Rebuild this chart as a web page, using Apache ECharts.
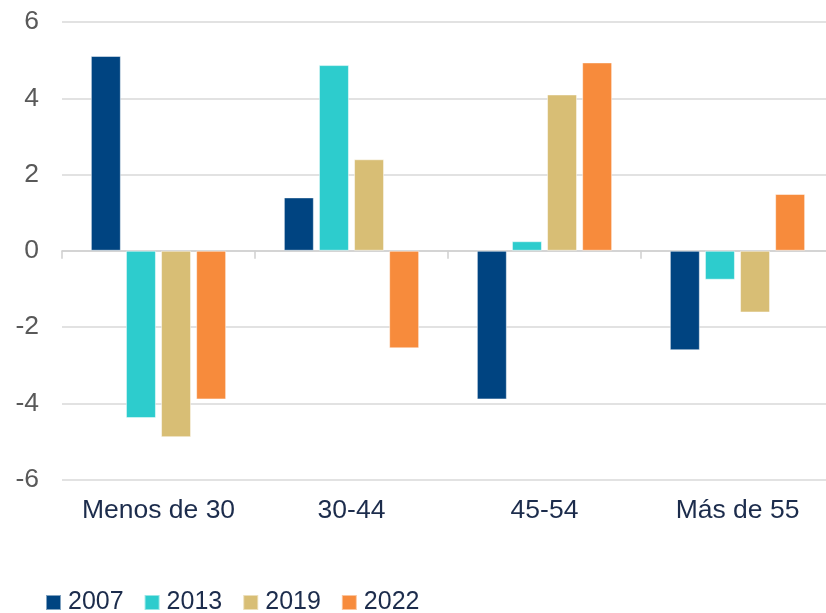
<!DOCTYPE html>
<html>
<head>
<meta charset="utf-8">
<script src="https://cdn.jsdelivr.net/npm/echarts@6/dist/echarts.min.js"></script>
<style>
  html, body { margin: 0; padding: 0; background: #fff; }
  #chart { width: 826px; height: 613px; }
</style>
</head>
<body>
<div id="chart"></div>
<script>
// 年龄组
var categories = ['Menos de 30', '30-44', '45-54', 'Más de 55'];
var yTicks = [-6, -4, -2, 0, 2, 4, 6];

var s2007 = [5.11, 1.40, -3.90, -2.61];
var s2013 = [-4.39, 4.87, 0.25, -0.76];
var s2019 = [-4.89, 2.40, 4.10, -1.62];
var s2022 = [-3.90, -2.56, 4.94, 1.49];

var colors = ['#004481', '#2dcccd', '#d8be75', '#f78b3c'];
var font = 'Liberation Sans, Arial, sans-serif';

function bar(name, data, color) {
  return {
    name: name,
    type: 'bar',
    data: data,
    barWidth: 30,
    barGap: '17%',
    itemStyle: {
      color: color,
      borderColor: 'rgba(255,255,255,0.5)',
      borderWidth: 1
    }
  };
}

var myChart = echarts.init(document.getElementById('chart'));

var option = {
  animation: false,
  backgroundColor: '#fff',
  grid: {
    left: 62,
    top: 22,
    width: 772,
    bottom: 133.5,
    outerBoundsMode: 'none'
  },
  legend: {
    left: 45,
    top: 590,
    padding: 0,
    itemWidth: 15,
    itemHeight: 15,
    itemGap: 20,
    icon: 'rect',
    textStyle: { fontFamily: font, fontSize: 25, color: '#1c2c4c', padding: [0, 0, 0, 2] },
    data: ['2007', '2013', '2019', '2022']
  },
  xAxis: [
    {
      // 底部标签
      type: 'category',
      data: categories,
      position: 'bottom',
      axisLine: { show: false, onZero: false },
      axisTick: { show: false },
      axisLabel: { interval: 0, hideOverlap: false, fontFamily: font, fontSize: 26.5, color: '#1c2c4c', margin: 18 }
    },
    {
      // 零线 + 刻度
      type: 'category',
      data: categories,
      position: 'bottom',
      axisLine: { show: true, onZero: true, lineStyle: { color: '#d0d0d0', width: 1.5 } },
      axisTick: { show: true, interval: 0, length: 8, lineStyle: { color: '#d0d0d0', width: 1.5 } },
      axisLabel: { show: false }
    }
  ],
  yAxis: {
    type: 'value',
    min: yTicks[0],
    max: yTicks[yTicks.length - 1],
    interval: 2,
    axisLine: { show: false },
    axisTick: { show: false },
    axisLabel: { fontFamily: font, fontSize: 26.5, color: '#595959', margin: 23 },
    splitLine: { lineStyle: { color: '#d9d9d9', width: 1.5 } }
  },
  series: [
    bar('2007', s2007, colors[0]),
    bar('2013', s2013, colors[1]),
    bar('2019', s2019, colors[2]),
    bar('2022', s2022, colors[3])
  ]
};

myChart.setOption(option);
</script>
</body>
</html>
